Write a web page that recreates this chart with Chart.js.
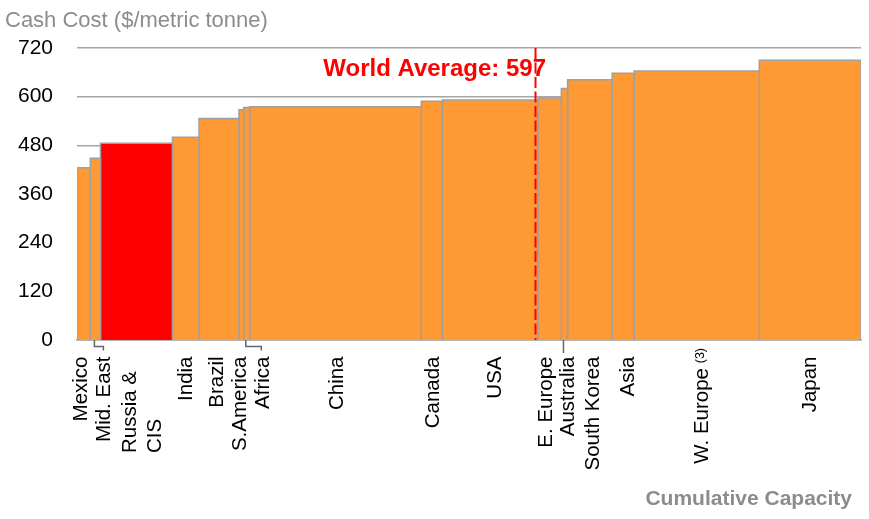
<!DOCTYPE html>
<html>
<head>
<meta charset="utf-8">
<script src="https://cdn.jsdelivr.net/npm/chart.js@4.4.0/dist/chart.umd.min.js"></script>
<style>
  body { margin: 0; background: #fff; }
  #wrap { position: relative; width: 869px; height: 519px; }
</style>
</head>
<body>
<div id="wrap"><canvas id="costCurve"></canvas></div>
<script>
// regions in cost order, left to right along the curve
const regions = ['Mexico', 'Mid. East', 'Russia & CIS', 'India', 'Brazil', 'S.America', 'Africa', 'China',
  'Canada', 'USA', 'E. Europe', 'Australia', 'South Korea', 'Asia', 'W. Europe', 'Japan'];
const capacity = [1.7, 1.3, 9.2, 3.4, 5.1, 0.6, 0.8, 21.9, 2.7, 12.2, 3.0, 0.8, 5.7, 2.8, 16.0, 13.0];
const cashCost = [425, 448, 485, 500, 546, 568, 573, 575, 589, 592, 597, 620, 642, 658, 663, 690];
const yTicks = [0, 120, 240, 360, 480, 600, 720];
const worldAverage = 597;
const worldAverageAt = 58.6;   // cumulative capacity where the average is marked
const highlight = 'Russia & CIS';

const FONT = '"Liberation Sans", Arial, sans-serif';
const total = capacity.reduce((a, b) => a + b, 0);

// one block per region, width = capacity, height = cost (filled down to zero)
let start = 0;
const datasets = regions.map((name, i) => {
  const x0 = start, x1 = start + capacity[i];
  start = x1;
  return {
    label: name,
    data: [{x: x0, y: 0}, {x: x0, y: cashCost[i]}, {x: x1, y: cashCost[i]}, {x: x1, y: 0}],
    backgroundColor: name === highlight ? '#ff0000' : '#ff9933',
    borderColor: '#a0a0a0',
    borderWidth: 1.5,
    fill: 'origin',
    pointRadius: 0,
    tension: 0
  };
});

// label text per region (line breaks / superscripts)
const labelLines = {'Russia & CIS': ['Russia &', 'CIS']};
const labelSup = {'W. Europe': '(3)'};
// baseline offset from bar centre, px
const labelNudge = {'Mexico': 3.5, 'Mid. East': 14.3, 'Russia & CIS': -0.8, 'India': 6.5, 'Brazil': 4,
  'S.America': 4.2, 'Africa': 21.8, 'China': 7.3, 'Canada': 7.6, 'USA': 11, 'E. Europe': 2,
  'Australia': 9.5, 'South Korea': 9, 'Asia': 10.5, 'W. Europe': 11.2, 'Japan': 6};
// leader lines for the narrow bars: elbow to the right by n px, or straight (0)
const leaders = {'Mid. East': 9, 'Africa': 15.5, 'Australia': 0};

const averageLine = {
  id: 'averageLine',
  afterDatasetsDraw(chart) {
    const {ctx, scales: {x, y}} = chart;
    const px = x.getPixelForValue(worldAverageAt);
    ctx.save();
    ctx.strokeStyle = '#ff0000';
    ctx.lineWidth = 2;
    ctx.setLineDash([11, 3.5]);
    ctx.beginPath();
    ctx.moveTo(px, y.getPixelForValue(720));
    ctx.lineTo(px, y.getPixelForValue(0));
    ctx.stroke();
    ctx.setLineDash([]);
    ctx.fillStyle = '#ff0000';
    ctx.font = 'bold 24px ' + FONT;
    ctx.textAlign = 'right';
    ctx.textBaseline = 'alphabetic';
    ctx.fillText('World Average: ' + worldAverage, px + 10.5, 76);
    ctx.restore();
  }
};

const axisLabels = {
  id: 'axisLabels',
  afterDraw(chart) {
    const {ctx, scales: {x, y}} = chart;
    const base = y.getPixelForValue(0);
    ctx.save();

    // axis titles
    ctx.fillStyle = '#8c8c8c';
    ctx.font = '22px ' + FONT;
    ctx.textAlign = 'left';
    ctx.fillText('Cash Cost ($/metric tonne)', 5, 26.5);
    ctx.font = 'bold 21px ' + FONT;
    ctx.textAlign = 'right';
    ctx.fillText('Cumulative Capacity', 852, 505);

    let s = 0;
    regions.forEach((name, i) => {
      const mid = x.getPixelForValue(s + capacity[i] / 2);
      s += capacity[i];
      const bx = mid + labelNudge[name];

      if (name in leaders) {
        const lx = mid - 1;
        ctx.strokeStyle = '#666';
        ctx.lineWidth = 1.5;
        ctx.beginPath();
        ctx.moveTo(lx, base);
        if (leaders[name] > 0) {
          ctx.lineTo(lx, base + 6.5);
          ctx.lineTo(lx + leaders[name], base + 6.5);
          ctx.lineTo(lx + leaders[name], base + 10.5);
        } else {
          ctx.lineTo(lx, base + 13);
        }
        ctx.stroke();
      }

      ctx.fillStyle = '#000';
      ctx.font = '20.5px ' + FONT;
      const lines = labelLines[name];
      if (lines) {
        // stacked lines share a common start
        lines.forEach((t, k) => {
          ctx.save();
          ctx.translate(bx + k * 25, 453);
          ctx.rotate(-Math.PI / 2);
          ctx.textAlign = 'left';
          ctx.fillText(t, 0, 0);
          ctx.restore();
        });
      } else if (labelSup[name]) {
        ctx.save();
        ctx.translate(bx, 368);
        ctx.rotate(-Math.PI / 2);
        ctx.textAlign = 'right';
        ctx.fillText(name, 0, 0);
        ctx.font = '12.5px ' + FONT;
        ctx.fillText(labelSup[name], 20, -4);
        ctx.restore();
      } else {
        ctx.save();
        ctx.translate(bx, 356.5);
        ctx.rotate(-Math.PI / 2);
        ctx.textAlign = 'right';
        ctx.fillText(name, 0, 0);
        ctx.restore();
      }
    });
    ctx.restore();
  }
};

new Chart(document.getElementById('costCurve'), {
  type: 'line',
  data: { datasets },
  options: {
    responsive: true,
    maintainAspectRatio: false,
    animation: false,
    events: [],
    layout: { padding: { top: 48, right: 8, bottom: 179, left: 0 } },
    plugins: { legend: { display: false }, tooltip: { enabled: false } },
    scales: {
      x: {
        type: 'linear',
        min: 0,
        max: total,
        z: 1,   // base line drawn over the blocks
        grid: { display: false, drawTicks: false },
        border: { display: true, color: '#a0a0a0', width: 1.5 },
        ticks: { display: false },
        afterFit: s => { s.height = 0; }
      },
      y: {
        min: 0,
        max: 720,
        afterBuildTicks: s => { s.ticks = yTicks.map(v => ({ value: v })); },
        grid: { color: '#a6a6a6', lineWidth: 1.5, drawTicks: false },
        border: { display: false },
        ticks: { color: '#000', font: { family: FONT, size: 21 }, padding: 24 },
        afterFit: s => { s.width = 77; }
      }
    }
  },
  plugins: [averageLine, axisLabels]
});
</script>
</body>
</html>
